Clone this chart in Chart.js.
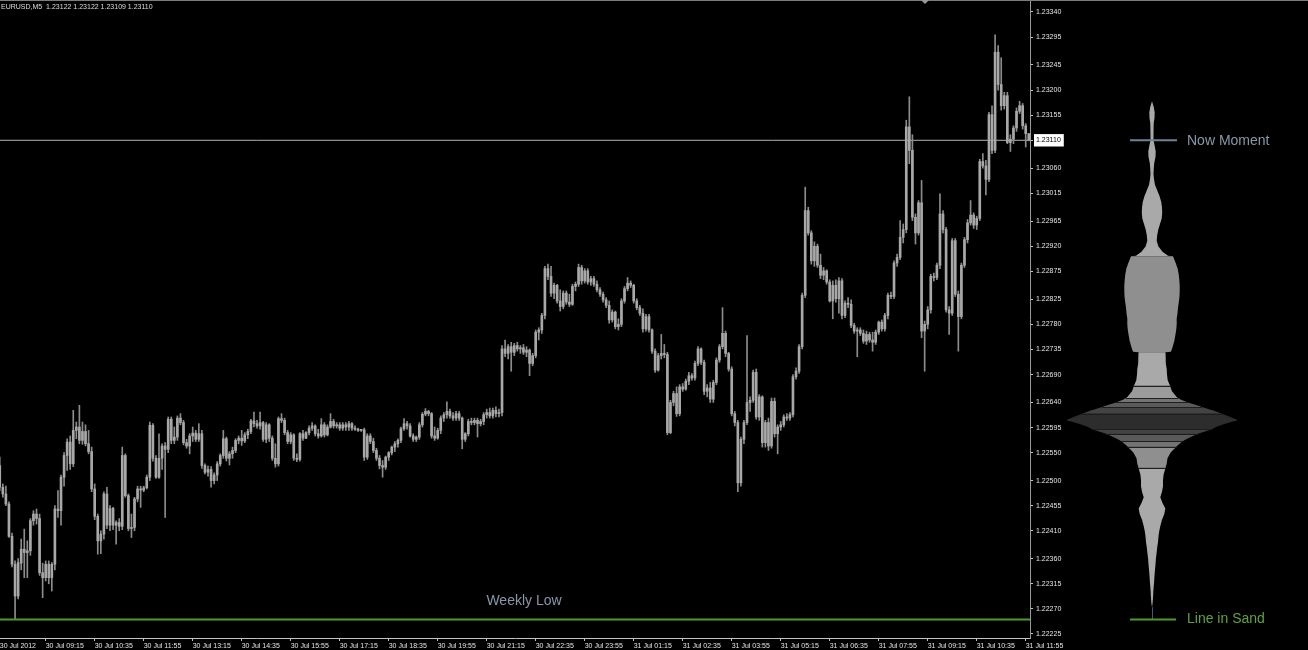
<!DOCTYPE html>
<html>
<head>
<meta charset="utf-8">
<title>EURUSD,M5</title>
<script src="https://cdn.jsdelivr.net/npm/chart.js@4.4.1/dist/chart.umd.min.js"></script>
<style>
    html, body { margin: 0; padding: 0; background: #000; }
    #wrap { width: 1308px; height: 650px; position: relative; }
</style>
</head>
<body>
<div id="wrap"><canvas id="chart"></canvas></div>
<script>
/* ========================================
   EURUSD M5 + perfil de volume
   ======================================== */
const symbol = 'EURUSD,M5';
const BASE = 1.22; // precos abaixo em pontos acima de 1.22000

// OHLC, 30 Jul 08:00 -> 31 Jul 12:00 (5 min)
const open = [
    527,488,476,458,400,350,293,352,377,371,374,428,440,432,335,326,350,326,350,449,
    446,506,545,569,530,590,596,572,588,566,552,485,436,392,404,476,420,450,420,425,
    418,545,473,414,416,467,485,483,487,506,599,540,506,540,562,556,610,572,578,612,
    604,568,562,580,585,574,584,527,515,520,500,510,530,545,575,540,548,554,572,576,
    571,582,588,607,602,598,604,574,600,576,540,530,611,608,586,570,582,540,538,584,
    576,586,594,598,584,580,600,582,596,606,598,600,594,600,596,602,594,592,590,591,
    542,580,570,554,540,527,524,542,550,560,566,572,593,602,598,580,574,578,600,619,
    624,620,580,576,590,612,618,624,616,612,620,612,574,584,606,604,608,602,606,618,
    622,616,626,620,622,736,728,740,730,742,736,738,730,734,710,724,766,770,796,880,
    866,836,850,822,812,836,820,816,848,852,882,858,876,856,862,852,842,834,824,814,
    788,802,776,780,822,844,854,850,822,810,800,772,794,770,732,698,724,728,726,586,
    640,656,620,668,664,678,688,684,710,736,712,660,666,646,676,716,740,764,728,700,
    620,604,496,574,604,640,644,694,614,650,568,604,562,642,584,596,600,614,612,618,
    686,696,740,832,984,944,894,920,886,868,876,856,822,850,826,858,796,818,816,778,
    768,770,764,750,762,752,748,766,784,772,796,832,830,890,900,936,950,1134,1092,972,
    944,998,768,780,806,866,864,886,978,950,806,800,930,834,794,886,932,962,976,958,
    970,1072,1064,1040,1156,1092,1268,1210,1172,1190,1106,1112,1132,1162,1172,1136,1122
];
const high = [
    542,494,490,462,406,356,360,395,413,392,432,446,449,440,352,356,356,353,455,482,
    510,550,575,580,626,605,635,605,600,590,560,494,440,410,480,488,455,452,428,432,
    560,548,476,440,470,490,490,490,510,605,602,545,584,566,568,614,614,596,616,620,
    608,574,584,596,590,602,590,530,526,525,514,534,548,590,578,552,560,575,580,590,
    586,592,610,623,608,623,606,604,602,580,566,614,620,612,590,586,584,548,586,590,
    588,598,604,600,592,611,604,600,620,610,604,604,604,604,606,604,598,594,592,594,
    584,584,576,558,545,536,544,552,562,570,575,596,611,606,602,584,580,604,622,629,
    626,622,596,594,616,622,641,628,622,624,624,614,586,610,612,612,612,610,622,628,
    630,630,632,628,742,752,744,748,746,748,742,744,740,736,728,770,774,800,884,888,
    884,854,852,842,840,840,834,852,856,888,886,880,880,866,866,858,846,838,828,822,
    806,804,790,826,848,864,858,852,826,814,808,798,798,772,736,728,762,744,730,644,
    660,668,672,674,682,694,692,714,740,738,716,672,676,680,720,744,810,768,730,704,
    624,608,578,608,760,650,698,700,654,652,608,612,648,648,600,606,618,620,622,690,
    702,744,836,1026,990,948,928,924,906,882,878,860,858,860,864,862,822,828,824,782,
    774,774,770,768,766,766,770,786,788,800,836,838,894,906,966,960,1146,1188,1120,978,
    1002,1038,786,812,870,872,890,1014,984,954,812,934,934,840,890,936,968,1002,980,974,
    1076,1086,1074,1160,1172,1299,1280,1258,1196,1196,1120,1136,1168,1180,1176,1140,1122
];
const low = [
    482,470,455,398,345,251,288,340,326,326,366,420,422,330,290,320,315,302,340,434,
    420,490,518,520,525,575,566,565,562,548,480,430,368,369,395,414,410,412,386,410,
    412,470,410,398,410,462,452,480,485,500,535,504,504,520,434,550,566,566,572,600,
    564,558,548,570,570,570,522,512,508,488,494,500,526,540,535,528,540,550,566,563,
    568,575,584,596,594,592,570,568,570,536,524,526,604,582,566,566,536,534,535,572,
    575,582,590,580,576,578,578,580,594,594,594,590,590,590,590,590,590,588,588,536,
    538,566,550,536,521,506,520,536,546,552,560,568,590,592,578,570,570,574,596,616,
    616,576,572,574,584,606,612,612,608,608,608,557,570,580,600,600,578,598,600,612,
    612,612,614,614,616,722,718,696,724,732,728,726,722,688,706,720,752,764,790,860,
    830,826,818,804,808,816,812,814,840,848,852,854,852,850,848,838,830,820,810,782,
    784,772,770,776,818,840,846,818,806,796,766,768,766,728,694,696,718,720,582,584,
    634,615,616,660,662,672,680,680,706,708,654,650,640,640,672,712,736,722,696,616,
    598,480,490,566,600,624,640,610,608,560,560,554,558,578,548,590,596,608,608,614,
    682,692,736,828,940,888,884,882,862,860,852,820,790,820,800,790,792,810,774,764,
    722,760,746,744,748,732,744,762,768,768,790,826,826,884,896,926,944,1068,966,924,
    940,756,696,772,800,858,860,880,944,802,762,796,830,732,790,882,926,958,952,950,
    966,1060,1012,1036,1086,1088,1200,1164,1166,1104,1090,1104,1126,1158,1130,1098,1109
];
const close = [
    488,476,458,400,350,293,353,377,371,374,428,440,432,335,326,350,326,350,449,446,
    506,545,569,530,590,596,572,588,566,552,485,436,392,404,476,420,450,420,425,418,
    545,473,414,416,467,485,483,487,506,599,540,506,540,562,556,610,572,578,612,604,
    568,562,580,585,574,584,527,515,520,500,510,530,545,575,540,548,554,572,576,571,
    582,588,607,602,598,604,574,600,576,540,530,611,608,586,570,582,540,538,584,576,
    586,594,598,584,580,600,582,596,606,598,600,594,600,596,602,594,592,590,591,542,
    580,570,554,540,527,524,542,550,560,566,572,593,602,598,580,574,578,600,619,624,
    620,580,576,590,612,618,624,616,612,620,612,574,584,606,604,608,602,606,618,622,
    616,626,620,622,736,728,740,730,742,736,738,730,734,710,724,766,770,796,880,866,
    836,850,822,812,836,820,816,848,852,882,858,876,856,862,852,842,834,824,814,788,
    802,776,780,822,844,854,850,822,810,800,772,794,770,732,698,724,728,726,586,640,
    656,620,668,664,678,688,684,710,736,712,660,666,646,676,716,740,764,728,700,620,
    604,496,574,604,640,644,694,614,650,568,604,562,642,584,596,600,614,612,618,686,
    696,740,832,984,944,894,920,886,868,876,856,822,850,826,858,796,818,816,778,768,
    770,764,750,762,752,748,766,784,772,796,832,830,890,900,936,950,1134,1092,972,944,
    998,768,780,806,866,864,886,978,950,806,800,930,834,794,886,932,962,976,958,970,
    1072,1064,1040,1156,1092,1268,1210,1172,1190,1106,1112,1132,1162,1172,1136,1122,1110
];

// eixo do tempo (indice da barra -> rotulo)
const xTickBars = [0, 15, 31, 47, 63, 79, 95, 111, 127, 143, 159, 175, 191, 207, 223, 239, 255, 271, 287, 303, 319, 335];
const xTickLabels = ['30 Jul 2012', '30 Jul 09:15', '30 Jul 10:35', '30 Jul 11:55', '30 Jul 13:15', '30 Jul 14:35',
    '30 Jul 15:55', '30 Jul 17:15', '30 Jul 18:35', '30 Jul 19:55', '30 Jul 21:15', '30 Jul 22:35', '30 Jul 23:55',
    '31 Jul 01:15', '31 Jul 02:35', '31 Jul 03:55', '31 Jul 05:15', '31 Jul 06:35', '31 Jul 07:55', '31 Jul 09:15',
    '31 Jul 10:35', '31 Jul 11:55'];

// eixo de preco
const yTickValues = [1.23340, 1.23295, 1.23245, 1.23200, 1.23155, 1.23110, 1.23060, 1.23015, 1.22965, 1.22920,
    1.22875, 1.22825, 1.22780, 1.22735, 1.22690, 1.22640, 1.22595, 1.22550, 1.22500, 1.22455, 1.22410, 1.22360,
    1.22315, 1.22270, 1.22225];

const nowPrice = 1.23110;
const weeklyLow = 1.22251;

// perfil de volume: nivel (pontos), volume (meia largura), faixa de cor
const profilePts = [1180,1170,1160,1150,1140,1130,1120,1110,1100,1090,1080,1070,1060,1050,1040,1030,1020,1010,1000,990,980,970,960,950,940,930,920,910,903,
    902,890,880,870,860,850,840,830,820,810,800,790,780,770,760,750,740,731,
    730,720,710,700,690,680,
    670,660,650, 648,645, 640,635, 632,628,625,
    620,615,610,608,605,600,596, 592,588, 584,580,576, 571,566,
    561,555,550,540,530,
    523,510,500,490,480,470,460,450,440,430,420,410,400,390,380,370,360,350,340,330,320,310,300,290,280,273];
const profileVol = [0,1.7,2.7,2.5,1.7,1.6,1.5,1.5,2.7,3.7,3.5,2.3,1.8,1.5,2,3,5.3,7.5,9.2,10,10.2,9.7,8,6.3,5.2,4.7,6.3,10.5,16,
    21,23.7,25.6,26.7,27.3,27.7,27.7,27.5,26.8,26,25.5,24.7,24.7,24.2,23.3,22.3,20.7,19,
    13.5,13.7,13.8,14.7,15,15.7,
    18,20,24.7, 26,29, 36,45, 50,57,62,
    70,77,84,86,79,70,64, 60,53, 46,41,36, 31,27.5,
    24.5,21,18.5,15.5,14.7,
    13.5,11.5,11,11,10,8.3,10.5,13.3,12.3,10,8.5,7.3,6.5,6,5.2,4.6,3.9,3.5,3,2.5,2.2,1.7,1.3,1,0.6,0];
const profileShade = [0,0,0,0,0,0,0,0,0,0,0,0,0,0,0,0,0,0,0,0,0,0,0,0,0,0,0,0,0,
    1,1,1,1,1,1,1,1,1,1,1,1,1,1,1,1,1,1,
    0,0,0,0,0,0,
    2,2,2, 3,3, 4,4, 5,5,5,
    6,6,6,6,6,6,6, 5,5, 4,4,4, 3,3,
    1,1,1,1,1,
    0,0,0,0,0,0,0,0,0,0,0,0,0,0,0,0,0,0,0,0,0,0,0,0,0,0];
const shadeColors = ['#a9a9a9', '#8f8f8f', '#9b9b9b', '#737373', '#5a5a5a', '#434343', '#2d2d2d'];

const X_MIN = 0.078, X_MAX = 336.4;
const Y_MIN = 1.222178, Y_MAX = 1.233615;
const PROFILE_X = 1152;
const FONT_SMALL = { family: 'Liberation Sans', size: 7 };

const px = p => BASE + p / 100000;
const isNow = v => Math.abs(v - nowPrice) < 1e-7;

const wicks = low.map((l, i) => ({ x: i, y: [px(l), px(high[i])] }));
const bodies = open.map((o, i) => ({ x: i, y: [px(o), px(close[i])] }));

const overlay = {
    id: 'overlay',
    afterDraw(chart) {
        const { ctx, chartArea, scales: { y } } = chart;
        const W = chart.width;
        ctx.save();

        // borda superior + marcador de deslocamento
        ctx.strokeStyle = '#7c7c7c';
        ctx.lineWidth = 1;
        ctx.beginPath(); ctx.moveTo(0, 0.5); ctx.lineTo(W, 0.5); ctx.stroke();
        ctx.fillStyle = '#9a9a9a';
        ctx.beginPath(); ctx.moveTo(921, 0); ctx.lineTo(929, 0); ctx.lineTo(925, 4); ctx.closePath(); ctx.fill();

        // cabecalho
        const n = close.length - 1;
        const f = p => px(p).toFixed(5);
        ctx.font = '7px "Liberation Sans"';
        ctx.fillStyle = '#dedede';
        ctx.textBaseline = 'middle';
        ctx.textAlign = 'left';
        ctx.fillText(`${symbol}  ${f(open[n])} ${f(high[n])} ${f(low[n])} ${f(close[n])}`, 1, 7);

        // Weekly Low
        const yLow = y.getPixelForValue(weeklyLow);
        ctx.font = '14px "Liberation Sans"';
        ctx.fillStyle = '#8797aa';
        ctx.textAlign = 'center';
        ctx.fillText('Weekly Low', 524, yLow - 18);

        // perfil
        const ys = profilePts.map(p => y.getPixelForValue(px(p)));
        const hw = profileVol;
        let start = 0;
        for (let k = 0; k < profilePts.length - 1; k++) {
            const last = k === profilePts.length - 2;
            if (last || profileShade[k + 1] !== profileShade[k]) {
                ctx.beginPath();
                for (let j = start; j <= k + 1; j++) ctx.lineTo(PROFILE_X - hw[j], ys[j]);
                for (let j = k + 1; j >= start; j--) ctx.lineTo(PROFILE_X + hw[j], ys[j]);
                ctx.closePath();
                ctx.fillStyle = shadeColors[profileShade[k]];
                ctx.fill();
                start = k + 1;
            }
        }
        ctx.strokeStyle = '#1e1e1e';
        ctx.lineWidth = 1;
        for (let j = 1; j < profilePts.length; j++) {
            if (profileShade[j] !== profileShade[j - 1] && profilePts[j] < 700) {
                const yy = Math.round(ys[j]) + 0.5;
                ctx.beginPath(); ctx.moveTo(PROFILE_X - hw[j], yy); ctx.lineTo(PROFILE_X + hw[j], yy); ctx.stroke();
            }
        }
        // fio ate a linha
        ctx.strokeStyle = '#3d5c7a';
        ctx.beginPath();
        ctx.moveTo(PROFILE_X + 0.5, ys[ys.length - 1]);
        ctx.lineTo(PROFILE_X + 0.5, yLow);
        ctx.stroke();

        // Now Moment / Line in Sand
        const yNow = y.getPixelForValue(nowPrice);
        ctx.lineWidth = 2;
        ctx.strokeStyle = '#6e8398';
        ctx.beginPath(); ctx.moveTo(1130, yNow); ctx.lineTo(1177, yNow); ctx.stroke();
        ctx.strokeStyle = '#4f9a2c';
        ctx.beginPath(); ctx.moveTo(1130, yLow); ctx.lineTo(1176, yLow); ctx.stroke();
        ctx.textAlign = 'left';
        ctx.font = '14px "Liberation Sans"';
        ctx.fillStyle = '#8797aa';
        ctx.fillText('Now Moment', 1187, yNow + 1);
        ctx.fillStyle = '#5fa23c';
        ctx.fillText('Line in Sand', 1187, yLow);
        ctx.restore();
    }
};

new Chart(document.getElementById('chart'), {
    type: 'bar',
    data: {
        datasets: [
            { type: 'line', label: 'Now', data: [{ x: X_MIN, y: nowPrice }, { x: X_MAX, y: nowPrice }],
              borderColor: '#b4b4b4', borderWidth: 1, pointRadius: 0, order: 3 },
            { type: 'bar', label: 'Wick', data: wicks, backgroundColor: '#8c8c8c',
              barThickness: 1, grouped: false, order: 2 },
            { type: 'bar', label: 'Body', data: bodies, backgroundColor: '#a8a8a8',
              barThickness: 2, minBarLength: 1, grouped: false, order: 1 },
            { type: 'line', label: 'Weekly Low', data: [{ x: X_MIN, y: weeklyLow }, { x: X_MAX, y: weeklyLow }],
              borderColor: '#4f9a2c', borderWidth: 2, pointRadius: 0, order: 0 }
        ]
    },
    options: {
        responsive: true,
        maintainAspectRatio: false,
        devicePixelRatio: 1,
        animation: false,
        events: [],
        layout: { autoPadding: false, padding: { left: 0, top: 0, right: 198, bottom: 0 } },
        plugins: { legend: { display: false }, tooltip: { enabled: false } },
        scales: {
            x: {
                type: 'linear', min: X_MIN, max: X_MAX, bounds: 'data', offset: false,
                afterBuildTicks: s => { s.ticks = xTickBars.map(v => ({ value: v })); },
                afterFit: s => { s.height = 12; s.paddingLeft = 0; s.paddingRight = 0; },
                ticks: { autoSkip: false, maxRotation: 0, minRotation: 0, align: 'start', padding: 1,
                         color: '#e4e4e4', font: FONT_SMALL, callback: (v, i) => xTickLabels[i] },
                grid: { drawOnChartArea: false, drawTicks: true, tickLength: 3, offset: false, color: '#c4c4c4' },
                border: { color: '#c4c4c4' }
            },
            y: {
                position: 'right', min: Y_MIN, max: Y_MAX,
                afterBuildTicks: s => { s.ticks = yTickValues.map(v => ({ value: v })); },
                afterFit: s => { s.width = 80; s.paddingTop = 0; s.paddingBottom = 0; },
                ticks: {
                    autoSkip: false, padding: 3, font: FONT_SMALL,
                    color: c => isNow(c.tick.value) ? '#000' : '#e4e4e4',
                    callback: v => v.toFixed(5),
                    showLabelBackdrop: true,
                    backdropColor: c => isNow(c.tick.value) ? '#ffffff' : 'rgba(0,0,0,0)',
                    backdropPadding: { top: 2, bottom: 2, left: 2, right: 3 }
                },
                grid: { drawOnChartArea: false, drawTicks: true, tickLength: 3, color: '#c4c4c4' },
                border: { color: '#9a9a9a' }
            }
        }
    },
    plugins: [overlay]
});
</script>
</body>
</html>
